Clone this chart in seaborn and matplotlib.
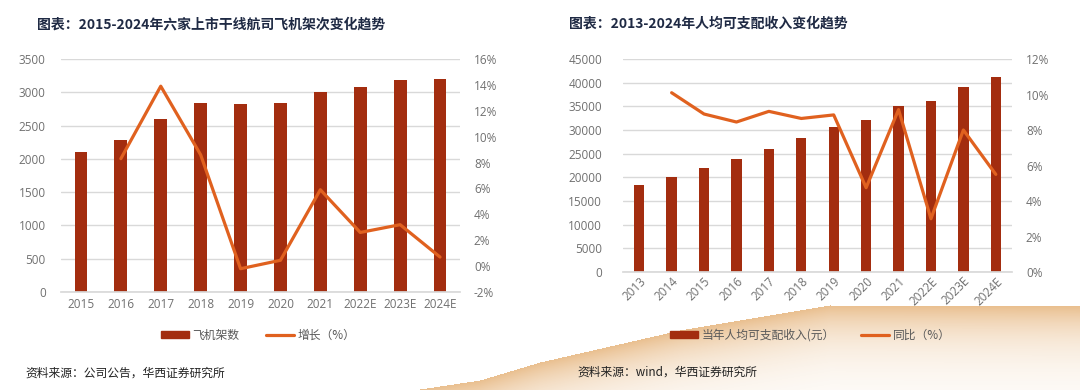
import numpy as np
import pandas as pd
import seaborn as sns
import matplotlib.pyplot as plt
from matplotlib.ticker import FuncFormatter, MultipleLocator
from matplotlib.patches import Patch
from matplotlib.lines import Line2D
from matplotlib.colors import to_rgb

# left chart data
years_a = ["2015", "2016", "2017", "2018", "2019", "2020", "2021", "2022E", "2023E", "2024E"]
fleet = [2110, 2290, 2600, 2835, 2825, 2840, 3005, 3085, 3180, 3200]
fleet_growth = [np.nan, 8.3, 13.9, 8.6, -0.2, 0.45, 5.9, 2.6, 3.2, 0.7]

# right chart data
years_b = ["2013", "2014", "2015", "2016", "2017", "2018", "2019", "2020", "2021",
           "2022E", "2023E", "2024E"]
income = [18310, 20170, 21970, 23820, 25970, 28230, 30730, 32190, 35130, 36100, 39000, 41100]
income_yoy = [np.nan, 10.1, 8.9, 8.45, 9.05, 8.65, 8.85, 4.75, 9.15, 3.0, 8.0, 5.5]

BAR = "#A32D0F"
LINE = "#E0611F"
GRID = "#D9D9D9"
TICK = "#707070"
TITLE = "#1F2A44"
TICKFONT = ["Open Sans", "DejaVu Sans"]

sns.set_theme(style="white")
plt.rcParams["font.family"] = ["Noto Sans CJK SC", "DejaVu Sans"]

fig = plt.figure(figsize=(10.8, 3.9), dpi=100)

# decorative swoosh in the page background
bg = fig.add_axes([0, 0, 1, 1], zorder=-5)
bg.set_xlim(0, 1080)
bg.set_ylim(390, 0)
bg.axis("off")
xx, yy = np.meshgrid(np.arange(1080), np.arange(390))
top = np.interp(xx, [380, 480, 540, 680, 830, 1080], [395, 380, 362, 330, 305, 306])
d = yy - top
alpha = np.where(d >= 0, 0.6 * np.exp(-d / 34.0), 0.0)
img = np.zeros((390, 1080, 4))
img[..., :3] = to_rgb("#DB9443")
img[..., 3] = alpha
bg.imshow(img, extent=(0, 1080, 390, 0), aspect="auto", interpolation="bilinear")


def pct(v, _):
    return f"{v:.0f}%"


def panel(rect, cats, bars, growth, ymax, ystep, rmin, rmax, rstep, rot, lpad, bar_name, line_name):
    ax = fig.add_axes(rect)
    ax.patch.set_alpha(0)
    df = pd.DataFrame({"cat": cats, "val": bars})
    sns.barplot(data=df, x="cat", y="val", color=BAR, width=0.32, ax=ax,
                saturation=1, edgecolor="none")
    ax.set_xlim(-0.5, len(cats) - 0.5)
    ax.set_ylim(0, ymax)
    ax.yaxis.set_major_locator(MultipleLocator(ystep))
    ax.grid(axis="y", color=GRID, linewidth=1)
    ax.set_axisbelow(True)
    for s in ["top", "right", "left"]:
        ax.spines[s].set_visible(False)
    ax.spines["bottom"].set_color(GRID)
    ax.set_xlabel("")
    ax.set_ylabel("")
    ax.tick_params(axis="y", length=0, pad=lpad, labelsize=8.5, labelcolor=TICK)
    if rot:
        ax.tick_params(axis="x", length=0, pad=2, labelsize=8.5, labelcolor=TICK)
        for t in ax.get_xticklabels():
            t.set_rotation(45)
            t.set_ha("right")
            t.set_rotation_mode("anchor")
    else:
        ax.tick_params(axis="x", length=0, pad=4, labelsize=8.5, labelcolor=TICK)

    ax2 = ax.twinx()
    ldf = pd.DataFrame({"pos": np.arange(len(cats)), "g": growth}).dropna()
    sns.lineplot(data=ldf, x="pos", y="g", color=LINE, linewidth=2.3, ax=ax2)
    ax2.set_ylim(rmin, rmax)
    ax2.yaxis.set_major_locator(MultipleLocator(rstep))
    ax2.yaxis.set_major_formatter(FuncFormatter(pct))
    ax2.tick_params(axis="y", length=0, pad=10, labelsize=8.5, labelcolor=TICK)
    ax2.set_ylabel("")
    ax2.set_xlabel("")
    for s in ax2.spines.values():
        s.set_visible(False)
    ax2.grid(False)
    ax.set_xlim(-0.5, len(cats) - 0.5)
    for t in ax.get_xticklabels() + ax.get_yticklabels() + ax2.get_yticklabels():
        t.set_family(TICKFONT)
    return ax, [Patch(color=BAR, label=bar_name), Line2D([], [], color=LINE, lw=2.3, label=line_name)]


axa, ha = panel([61 / 1080, 98 / 390, 399 / 1080, 233 / 390], years_a, fleet, fleet_growth,
                3500, 500, -2, 16, 2, False, 11, "飞机架数", "增长（%）")
axb, hb = panel([623 / 1080, 118 / 390, 389 / 1080, 213 / 390], years_b, income, income_yoy,
                45000, 5000, 0, 12, 2, True, 15, "当年人均可支配收入(元）", "同比（%）")

for h, cx in [(ha, 258 / 1080), (hb, 810 / 1080)]:
    fig.legend(handles=h, loc="center", bbox_to_anchor=(cx, 1 - 335 / 390), ncol=2,
               frameon=False, fontsize=8.5, handlelength=2.4, handleheight=0.6,
               columnspacing=2.2, handletextpad=0.3, labelcolor="#595959")

fig.text(37 / 1080, 1 - 24 / 390, "图表：2015-2024年六家上市干线航司飞机架次变化趋势",
         fontsize=10, fontweight="bold", color=TITLE, va="center")
fig.text(569 / 1080, 1 - 24 / 390, "图表：2013-2024年人均可支配收入变化趋势",
         fontsize=10, fontweight="bold", color=TITLE, va="center")
fig.text(25 / 1080, 1 - 373 / 390, "资料来源：公司公告，华西证券研究所",
         fontsize=8.5, color="#222222", va="center")
fig.text(577 / 1080, 1 - 372 / 390, "资料来源：wind，华西证券研究所",
         fontsize=8.5, color="#222222", va="center")

fig.savefig("out.png", dpi=100)
